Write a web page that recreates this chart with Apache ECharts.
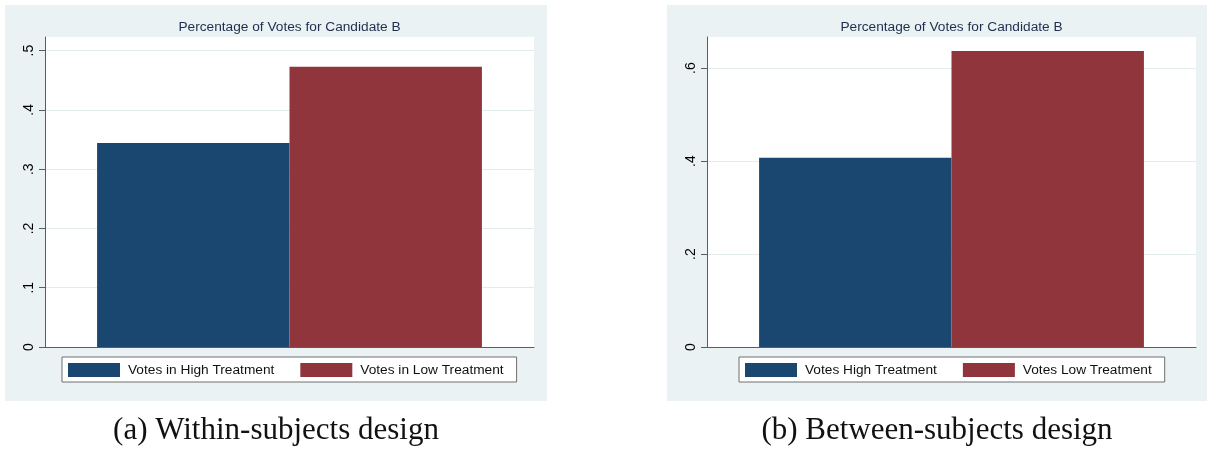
<!DOCTYPE html>
<html>
<head>
<meta charset="utf-8">
<script src="https://cdn.jsdelivr.net/npm/echarts@6/dist/echarts.min.js"></script>
<style>
  html, body { margin: 0; padding: 0; background: #fff; }
  #chart { width: 1208px; height: 453px; }
</style>
</head>
<body>
<div id="chart"></div>
<script>
// Shared panel title
const titleText = 'Percentage of Votes for Candidate B';

// Panel (a): within-subjects design
const withinNames = ['Votes in High Treatment', 'Votes in Low Treatment'];
const withinValues = [0.344, 0.473];
const withinTicks = [0, 0.1, 0.2, 0.3, 0.4, 0.5];

// Panel (b): between-subjects design
const betweenNames = ['Votes High Treatment', 'Votes Low Treatment'];
const betweenValues = [0.407, 0.637];
const betweenTicks = [0, 0.2, 0.4, 0.6];

const captions = ['(a) Within-subjects design', '(b) Between-subjects design'];
const barColors = ['#1a476f', '#90353b'];

const sans = 'Liberation Sans';
const serif = 'Liberation Serif';
const axisGray = '#5c5c5c';
const panelBg = '#eaf2f3';

// ".1"-style labels, with a plain "0" at the origin
const tickFmt = v => (v === 0 ? '0' : String(+v.toFixed(2)).replace(/^0/, ''));

// Panel geometry (pixels)
const panels = [
  { bgLeft: 5, bgWidth: 542, gridLeft: 45, ymax: 0.523, interval: 0.1, ticks: withinTicks, names: withinNames, values: withinValues, legendLeft: 62 },
  { bgLeft: 667, bgWidth: 540, gridLeft: 707, ymax: 0.667, interval: 0.2, ticks: betweenTicks, names: betweenNames, values: betweenValues, legendLeft: 739 }
];
const gridTop = 37, gridHeight = 310, gridWidth = 489;

const grids = [], xAxes = [], yAxes = [], series = [], legends = [], graphics = [];

panels.forEach((p, i) => {
  const center = p.gridLeft + gridWidth / 2;

  graphics.push({
    type: 'rect', z: -100,
    shape: { x: p.bgLeft, y: 5, width: p.bgWidth, height: 396 },
    style: { fill: panelBg }
  });
  graphics.push({
    type: 'text', x: center, y: 27.5,
    style: { text: titleText, font: '13.7px "' + sans + '"', fill: '#1f2d4e', align: 'center', verticalAlign: 'middle' }
  });
  graphics.push({
    type: 'text', x: p.bgLeft + p.bgWidth / 2, y: 431,
    style: { text: captions[i], font: '31px "' + serif + '"', fill: '#111', align: 'center', verticalAlign: 'middle' }
  });

  grids.push({
    left: p.gridLeft, top: gridTop, width: gridWidth, height: gridHeight,
    show: true, backgroundColor: '#ffffff', borderWidth: 0
  });

  xAxes.push({
    type: 'category', gridIndex: i, data: [''],
    axisLine: { show: true, lineStyle: { color: axisGray, width: 1 } },
    axisTick: { show: false },
    axisLabel: { show: false },
    splitLine: { show: false }
  });

  yAxes.push({
    type: 'value', gridIndex: i, min: 0, max: p.ymax, interval: p.interval,
    axisLine: { show: true, lineStyle: { color: axisGray, width: 1 } },
    axisTick: { show: true, length: 6, customValues: p.ticks, lineStyle: { color: axisGray, width: 1 } },
    axisLabel: {
      rotate: 90, margin: 9, customValues: p.ticks, formatter: tickFmt,
      color: '#000', fontSize: 14, fontFamily: sans
    },
    splitLine: { show: true, lineStyle: { color: '#e3eced', width: 1 } }
  });

  p.names.forEach((name, k) => {
    series.push({
      type: 'bar', name: name, xAxisIndex: i, yAxisIndex: i,
      data: [p.values[k]],
      barGap: '0%', barCategoryGap: '21.3%',
      itemStyle: { color: barColors[k] },
      emphasis: { disabled: true }
    });
  });

  legends.push({
    data: p.names, left: p.legendLeft, top: 357, orient: 'horizontal',
    icon: 'rect', itemWidth: 52, itemHeight: 14, itemGap: 26,
    padding: [6, 13, 5, 6],
    borderColor: '#6e6e6e', borderWidth: 1, backgroundColor: '#ffffff',
    selectedMode: false,
    textStyle: { fontFamily: sans, fontSize: 13.7, color: '#111', lineHeight: 14, padding: [0, 0, 0, 3] }
  });
});

const chart = echarts.init(document.getElementById('chart'), null, { renderer: 'canvas' });
chart.setOption({
  animation: false,
  backgroundColor: '#ffffff',
  grid: grids,
  xAxis: xAxes,
  yAxis: yAxes,
  legend: legends,
  series: series,
  graphic: graphics
});
</script>
</body>
</html>
